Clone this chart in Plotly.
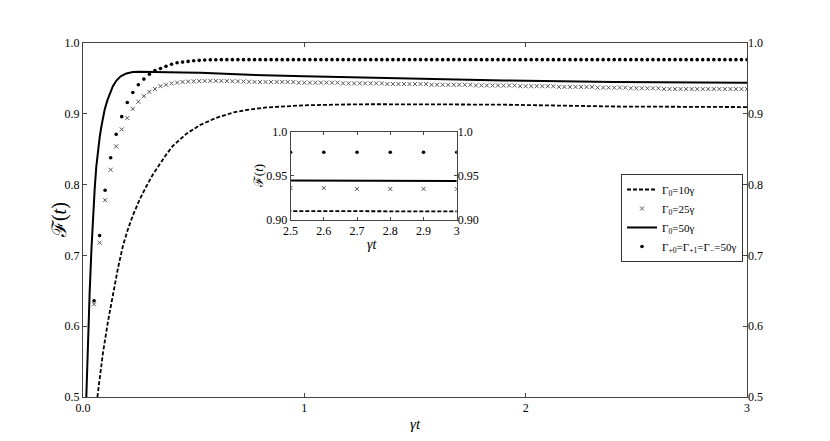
import plotly.graph_objects as go

# sampled time grid for the marker series (gamma*t), 0.05 .. 3.0
MARK_T0 = 0.05
MARK_DT = 0.025
mark_t = [round(MARK_T0 + MARK_DT * i, 3) for i in range(119)]

# Gamma_{+0} = Gamma_{+1} = Gamma_- = 50 gamma  (dots)
fid_all50 = [
    0.636, 0.728, 0.792, 0.838, 0.871, 0.896, 0.916, 0.930, 0.941, 0.949,
    0.956, 0.961, 0.964, 0.967, 0.970, 0.972, 0.973, 0.974, 0.975, 0.9755,
    0.976, 0.9762, 0.9764, 0.9765, 0.9765, 0.9765, 0.9765, 0.9765, 0.9765, 0.9765,
    0.9765, 0.9765, 0.9765, 0.9765, 0.9765, 0.9765, 0.9765, 0.9765, 0.9765, 0.9765,
    0.9765, 0.9765, 0.9765, 0.9765, 0.9765, 0.9765, 0.9765, 0.9765, 0.9765, 0.9765,
    0.9765, 0.9765, 0.9765, 0.9765, 0.9765, 0.9765, 0.9765, 0.9765, 0.9765, 0.9765,
    0.9765, 0.9765, 0.9765, 0.9765, 0.9765, 0.9765, 0.9765, 0.9765, 0.9765, 0.9765,
    0.9765, 0.9765, 0.9765, 0.9765, 0.9765, 0.9765, 0.9765, 0.9765, 0.9765, 0.9765,
    0.9765, 0.9765, 0.9765, 0.9765, 0.9765, 0.9765, 0.9765, 0.9765, 0.9765, 0.9765,
    0.9765, 0.9765, 0.9765, 0.9765, 0.9765, 0.9765, 0.9765, 0.9765, 0.9765, 0.9765,
    0.9765, 0.9765, 0.9765, 0.9765, 0.9765, 0.9765, 0.9765, 0.9765, 0.9765, 0.9765,
    0.9765, 0.9765, 0.9765, 0.9765, 0.9765, 0.9765, 0.9765, 0.9765, 0.9765,
]

# Gamma_0 = 25 gamma  (crosses)
fid_g25 = [
    0.631, 0.718, 0.778, 0.821, 0.854, 0.878, 0.894, 0.907, 0.917, 0.925,
    0.931, 0.935, 0.939, 0.941, 0.943, 0.944, 0.945, 0.9455, 0.946, 0.9462,
    0.9464, 0.9465, 0.9465, 0.9464, 0.9462, 0.946, 0.9458, 0.9456, 0.9454,
    0.945, 0.945, 0.945, 0.945, 0.945, 0.945, 0.945, 0.945,
    0.944, 0.944, 0.944, 0.944, 0.944, 0.944, 0.944, 0.944,
    0.943, 0.943, 0.943, 0.943, 0.943, 0.943, 0.943, 0.943,
    0.942, 0.942, 0.942, 0.942, 0.942, 0.942, 0.942, 0.942,
    0.941, 0.941, 0.941, 0.941, 0.941, 0.941, 0.941, 0.941,
    0.940, 0.940, 0.940, 0.940, 0.940, 0.940, 0.940, 0.940,
    0.939, 0.939, 0.939, 0.939, 0.939, 0.939, 0.939,
    0.938, 0.938, 0.938, 0.938, 0.938, 0.938, 0.938,
    0.937, 0.937, 0.937, 0.937, 0.937, 0.937,
    0.936, 0.936, 0.936, 0.936, 0.936, 0.936,
    0.935, 0.935, 0.935, 0.935, 0.935, 0.935, 0.935, 0.935,
    0.935, 0.935, 0.935, 0.935, 0.935, 0.935, 0.935, 0.935,
]

# Gamma_0 = 50 gamma  (solid line)
g50_t = [0.015, 0.022, 0.030, 0.038, 0.045, 0.053, 0.060, 0.068, 0.075, 0.083,
         0.090, 0.098, 0.110, 0.121, 0.135, 0.151, 0.170, 0.196, 0.225, 0.257,
         0.30, 0.36, 0.45, 0.53, 0.75, 1.0, 1.4, 1.9, 2.4, 2.5, 3.0]
g50_f = [0.500, 0.575, 0.647, 0.708, 0.757, 0.795, 0.825, 0.850, 0.866, 0.882,
         0.895, 0.906, 0.919, 0.929, 0.939, 0.947, 0.953, 0.957, 0.959, 0.9595,
         0.9595, 0.959, 0.9585, 0.958, 0.955, 0.953, 0.950, 0.947, 0.9448, 0.9445, 0.944]

# Gamma_0 = 10 gamma  (dashed line)
g10_t = [0.065, 0.078, 0.090, 0.113, 0.136, 0.158, 0.180, 0.203, 0.226, 0.256,
         0.287, 0.317, 0.347, 0.377, 0.407, 0.438, 0.468, 0.528, 0.60, 0.68,
         0.75, 0.83, 0.92, 1.0, 1.15, 1.3, 1.6, 1.9, 2.4, 2.5, 3.0]
g10_f = [0.500, 0.532, 0.562, 0.607, 0.647, 0.682, 0.713, 0.737, 0.757, 0.779,
         0.798, 0.815, 0.829, 0.843, 0.855, 0.864, 0.872, 0.884, 0.894, 0.902,
         0.906, 0.909, 0.911, 0.912, 0.913, 0.9135, 0.9133, 0.9129, 0.9103, 0.910, 0.9095]

main_yticks = [0.5, 0.6, 0.7, 0.8, 0.9, 1.0]
main_ytext = ["0.5", "0.6", "0.7", "0.8", "0.9", "1.0"]
main_xticks = [0, 1, 2, 3]
main_xtext = ["0.0", "1", "2", "3"]
ins_xticks = [2.5, 2.6, 2.7, 2.8, 2.9, 3.0]
ins_xtext = ["2.5", "2.6", "2.7", "2.8", "2.9", "3"]
ins_yticks = [0.90, 0.95, 1.0]
ins_ytext = ["0.90", "0.95", "1.0"]

FONT = "'Liberation Serif', 'DejaVu Serif', serif"
AX = "#444"

dash_line = dict(color="black", width=1.8, dash="4px,2px")
solid_line = dict(color="black", width=2)
dot_marker = dict(symbol="circle", size=3.6, color="black")
cross_marker = dict(symbol="x-thin", size=4, line=dict(color="#555", width=1))

fig = go.Figure()

# main panel
fig.add_trace(go.Scatter(x=g10_t, y=g10_f, mode="lines", line=dash_line,
                         name="Γ<sub>0</sub>=10γ"))
fig.add_trace(go.Scatter(x=mark_t, y=fid_g25, mode="markers", marker=cross_marker,
                         name="Γ<sub>0</sub>=25γ"))
fig.add_trace(go.Scatter(x=g50_t, y=g50_f, mode="lines", line=solid_line,
                         name="Γ<sub>0</sub>=50γ"))
fig.add_trace(go.Scatter(x=mark_t, y=fid_all50, mode="markers", marker=dot_marker,
                         name="Γ<sub>+0</sub>=Γ<sub>+1</sub>=Γ<sub>−</sub>=50γ"))

# inset: late-time window, markers every 0.1
ins_start = mark_t.index(2.5)
ins_mt = mark_t[ins_start::4]
fig.add_trace(go.Scatter(x=[t for t in g10_t if t >= 2.4],
                         y=[f for t, f in zip(g10_t, g10_f) if t >= 2.4],
                         mode="lines", line=dash_line, xaxis="x2", yaxis="y2", showlegend=False))
fig.add_trace(go.Scatter(x=ins_mt, y=fid_g25[ins_start::4], mode="markers",
                         marker=cross_marker, xaxis="x2", yaxis="y2", showlegend=False))
fig.add_trace(go.Scatter(x=[t for t in g50_t if t >= 2.4],
                         y=[f for t, f in zip(g50_t, g50_f) if t >= 2.4],
                         mode="lines", line=solid_line, xaxis="x2", yaxis="y2", showlegend=False))
fig.add_trace(go.Scatter(x=ins_mt, y=fid_all50[ins_start::4], mode="markers",
                         marker=dot_marker, xaxis="x2", yaxis="y2", showlegend=False))

# empty traces so the right-hand label axes are drawn
fig.add_trace(go.Scatter(x=[None], y=[None], yaxis="y3", showlegend=False))
fig.add_trace(go.Scatter(x=[None], y=[None], xaxis="x2", yaxis="y4", showlegend=False))

common = dict(showgrid=False, zeroline=False, ticks="inside", tickcolor=AX,
              linecolor=AX, linewidth=1, tickfont=dict(family=FONT, size=12, color="black"))

# the page body adds 8px on the left and top, so the figure is 8px smaller
fig.update_layout(
    width=822, height=433,
    margin=dict(l=75, r=83, t=35, b=44),
    paper_bgcolor="white", plot_bgcolor="white",
    font=dict(family=FONT, size=12, color="black"),
    xaxis=dict(range=[0, 3], tickvals=main_xticks, ticktext=main_xtext, ticklen=4,
               showline=True, mirror="ticks", **common),
    yaxis=dict(range=[0.5, 1.0], tickvals=main_yticks, ticktext=main_ytext, ticklen=4,
               showline=True, mirror=True, **common),
    yaxis3=dict(range=[0.5, 1.0], tickvals=main_yticks, ticktext=main_ytext, ticklen=4,
                overlaying="y", side="right", anchor="x", showline=False, **common),
    xaxis2=dict(domain=[0.3126, 0.5629], anchor="y2", range=[2.5, 3.0], tickvals=ins_xticks,
                ticktext=ins_xtext, ticklen=3, showline=True, mirror="ticks", **common),
    yaxis2=dict(domain=[0.5004, 0.750], anchor="x2", range=[0.9, 1.0], tickvals=ins_yticks,
                ticktext=ins_ytext, ticklen=3, showline=True, mirror=True, **common),
    yaxis4=dict(range=[0.9, 1.0], tickvals=ins_yticks, ticktext=ins_ytext, ticklen=3,
                overlaying="y2", side="right", anchor="x2", showline=False, **common),
    legend=dict(x=0.994, y=0.63, xanchor="right", yanchor="top", bgcolor="white",
                bordercolor="#333", borderwidth=1, font=dict(size=11, family=FONT),
                tracegroupgap=0, itemwidth=30),
    showlegend=True,
)

fig.add_annotation(text="ℱ(<i>t</i>)", xref="paper", yref="paper", x=-0.036, y=0.5,
                   xanchor="center", yanchor="middle", textangle=-90, showarrow=False,
                   font=dict(size=20))
fig.add_annotation(text="<i>γt</i>", xref="paper", yref="paper", x=0.5, y=-0.075,
                   xanchor="center", yanchor="middle", showarrow=False, font=dict(size=15))
fig.add_annotation(text="ℱ(<i>t</i>)", xref="paper", yref="paper", x=0.2636, y=0.624,
                   xanchor="center", yanchor="middle", textangle=-90, showarrow=False,
                   font=dict(size=13))
fig.add_annotation(text="<i>γt</i>", xref="paper", yref="paper", x=0.4367, y=0.432,
                   xanchor="center", yanchor="middle", showarrow=False, font=dict(size=14))

fig.write_html("out.html")
